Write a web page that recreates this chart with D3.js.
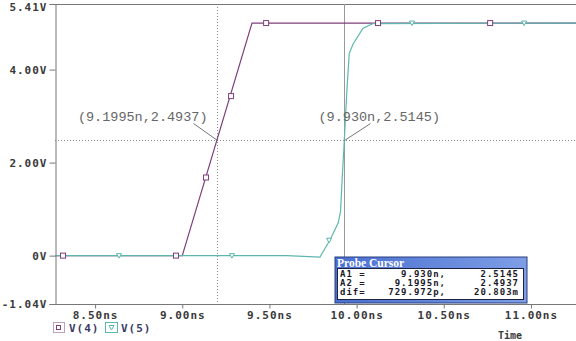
<!DOCTYPE html>
<html>
<head>
<meta charset="utf-8">
<script src="https://cdn.jsdelivr.net/npm/d3@7"></script>
<style>
    body { margin: 0; background: #fff; }
    svg { display: block; }
    .tick text { font-family: "DejaVu Sans Mono", monospace; font-weight: bold; font-size: 11px; letter-spacing: 1px; fill: #3a3a3a; }
</style>
</head>
<body>
<svg id="chart" width="576" height="341"></svg>
<script>
/* data (time in ns, volts) */
const v4Points = [[8.27, 0], [9.0, 0], [9.40, 5.0], [11.30, 5.0]];
const v4Markers = [[8.316, 0], [8.964, 0], [9.136, 1.68], [9.280, 3.43], [9.481, 5.0], [10.123, 5.0], [10.766, 5.0]];
const v5Points = [[8.27, 0], [9.60, 0], [9.79, -0.03], [9.848, 0.34], [9.894, 0.70], [9.908, 0.95],
    [9.918, 1.7], [9.930, 2.5145], [9.945, 3.6], [9.958, 4.35], [9.980, 4.55], [10.037, 4.89], [10.094, 4.99], [11.30, 5.0]];
const v5Markers = [[8.637, 0], [9.285, 0], [9.842, 0.33], [10.318, 5.0], [10.961, 5.0]];
const yTicks = [-1.04, 0, 2.0, 4.0, 5.41];
const yTickLabels = ["-1.04V", "0V", "2.00V", "4.00V", "5.41V"];
const xTicks = [8.5, 9.0, 9.5, 10.0, 10.5, 11.0];
const xTickLabels = ["8.50ns", "9.00ns", "9.50ns", "10.00ns", "10.50ns", "11.00ns"];
const cursorA1 = [9.930, 2.5145];
const cursorA2 = [9.1995, 2.4937];
const cursorRows = [["A1 =", "9.930n,", "2.5145"], ["A2 =", "9.1995n,", "2.4937"], ["dif=", "729.972p,", "20.803m"]];
const legendNames = ["V(4)", "V(5)"];

const purple = "#7d3f7b";
const teal = "#5cb8ae";
const axisColor = "#777";

let margin = { top: 4, right: 0, bottom: 37, left: 55 };
let width = 576, height = 341;

const svg = d3.select("#chart");

const xScale = d3.scaleLinear().domain([8.27, 11.27]).range([margin.left, 578]);
const yScale = d3.scaleLinear().domain([-1.04, 5.41]).range([height - margin.bottom, margin.top]);

const plot = svg.append("g");

// top border
plot.append("line")
    .attr("x1", margin.left).attr("x2", width)
    .attr("y1", margin.top + 0.5).attr("y2", margin.top + 0.5)
    .attr("stroke", axisColor);

/* cursors */
const a1x = Math.round(xScale(cursorA1[0])) + 0.5;
const a2x = Math.round(xScale(cursorA2[0])) + 0.5;
const a2y = Math.round(yScale(cursorA2[1])) + 0.5;

plot.append("line")
    .attr("x1", a2x).attr("x2", a2x)
    .attr("y1", margin.top).attr("y2", height - margin.bottom)
    .attr("stroke", "#888").attr("stroke-dasharray", "1,2");
plot.append("line")
    .attr("x1", margin.left).attr("x2", width)
    .attr("y1", a2y).attr("y2", a2y)
    .attr("stroke", "#888").attr("stroke-dasharray", "1,2");
plot.append("line")
    .attr("x1", a1x).attr("x2", a1x)
    .attr("y1", margin.top).attr("y2", height - margin.bottom)
    .attr("stroke", "#999");

/* traces */
const line = d3.line().x(d => xScale(d[0])).y(d => yScale(d[1]));

plot.append("path").datum(v4Points)
    .attr("d", line).attr("fill", "none")
    .attr("stroke", purple).attr("stroke-width", 1.2);
plot.append("path").datum(v5Points)
    .attr("d", line).attr("fill", "none")
    .attr("stroke", teal).attr("stroke-width", 1.2);

plot.selectAll("rect.m4").data(v4Markers).enter()
    .append("rect").attr("class", "m4")
    .attr("x", d => xScale(d[0]) - 2.5).attr("y", d => yScale(d[1]) - 2.5)
    .attr("width", 5).attr("height", 5)
    .attr("fill", "#fff").attr("stroke", purple).attr("stroke-width", 1);

const tri = "M-2.5,-2L2.5,-2L0,2.5Z";
plot.selectAll("path.m5").data(v5Markers).enter()
    .append("path").attr("class", "m5")
    .attr("d", tri)
    .attr("transform", d => "translate(" + xScale(d[0]) + "," + yScale(d[1]) + ")")
    .attr("fill", "#fff").attr("stroke", teal).attr("stroke-width", 1);

/* cursor labels */
const annFont = { family: "'Liberation Mono', monospace", size: "13.5px" };
plot.append("line")
    .attr("x1", a2x - 24).attr("y1", a2y - 17).attr("x2", a2x).attr("y2", a2y)
    .attr("stroke", "#777");
plot.append("text")
    .attr("x", a2x - 10).attr("y", a2y - 20)
    .attr("text-anchor", "end")
    .attr("font-family", annFont.family).attr("font-size", annFont.size)
    .attr("fill", "#666")
    .text("(" + "9.1995n" + "," + cursorA2[1].toFixed(4) + ")");
plot.append("line")
    .attr("x1", a1x).attr("y1", a2y).attr("x2", a1x + 26).attr("y2", a2y - 17)
    .attr("stroke", "#777");
plot.append("text")
    .attr("x", a1x - 26).attr("y", a2y - 20)
    .attr("font-family", annFont.family).attr("font-size", annFont.size)
    .attr("fill", "#666")
    .text("(" + "9.930n" + "," + cursorA1[1].toFixed(4) + ")");

/* axes */
const yAxis = d3.axisLeft(yScale)
    .tickValues(yTicks)
    .tickSize(6).tickPadding(2)
    .tickFormat((d, i) => yTickLabels[i]);
const yAxisG = svg.append("g")
    .attr("transform", "translate(" + (margin.left + 0.5) + ",0)")
    .call(yAxis);
// keep the top label inside the window
yAxisG.selectAll(".tick text").filter(d => d === 5.41).attr("dy", "0.55em");

const xAxis = d3.axisBottom(xScale)
    .tickValues(xTicks)
    .tickSize(4).tickPadding(3)
    .tickFormat((d, i) => xTickLabels[i]);
const xAxisG = svg.append("g")
    .attr("transform", "translate(0," + (height - margin.bottom + 0.5) + ")")
    .call(xAxis);

[yAxisG, xAxisG].forEach(g => {
    g.select(".domain").attr("stroke", axisColor);
    g.selectAll(".tick line").attr("stroke", axisColor);
});
xAxisG.select(".domain").attr("d", "M" + margin.left + ",0H" + width);

svg.append("text")
    .attr("x", 510).attr("y", 339)
    .attr("text-anchor", "middle")
    .attr("font-family", "'DejaVu Sans Mono', monospace").attr("font-weight", "bold")
    .attr("font-size", "10px").attr("fill", "#3a3a3a")
    .text("Time");

/* legend */
const legend = svg.append("g").attr("transform", "translate(53,322)");
legend.append("rect").attr("x", 0.5).attr("y", 0.5).attr("width", 11).attr("height", 10)
    .attr("fill", "none").attr("stroke", purple).attr("stroke-dasharray", "1,1");
legend.append("rect").attr("x", 3.5).attr("y", 3.5).attr("width", 4).attr("height", 4)
    .attr("fill", "#fff").attr("stroke", purple);
legend.append("text").attr("x", 16).attr("y", 9.5)
    .attr("font-family", "'DejaVu Sans Mono', monospace").attr("font-weight", "bold")
    .attr("font-size", "11px").attr("letter-spacing", "1px").attr("fill", "#3a3a6a")
    .text(legendNames[0]);
legend.append("rect").attr("x", 52.5).attr("y", 0.5).attr("width", 12).attr("height", 10)
    .attr("fill", "none").attr("stroke", teal);
legend.append("path").attr("d", tri)
    .attr("transform", "translate(58.5,5.5)")
    .attr("fill", "#fff").attr("stroke", teal);
legend.append("text").attr("x", 68).attr("y", 9.5)
    .attr("font-family", "'DejaVu Sans Mono', monospace").attr("font-weight", "bold")
    .attr("font-size", "11px").attr("letter-spacing", "1px").attr("fill", "#3a3a6a")
    .text(legendNames[1]);

/* probe cursor window */
const box = svg.append("g").attr("transform", "translate(335,257)");
const grad = svg.append("defs").append("linearGradient")
    .attr("id", "titlebar").attr("x1", 0).attr("x2", 1).attr("y1", 0).attr("y2", 0);
grad.append("stop").attr("offset", "0%").attr("stop-color", "#4a6fd0");
grad.append("stop").attr("offset", "100%").attr("stop-color", "#7e9ee6");
box.append("rect").attr("x", 0).attr("y", 0).attr("width", 192).attr("height", 46)
    .attr("fill", "url(#titlebar)").attr("stroke", "#2a3f80");
box.append("text").attr("x", 2).attr("y", 10)
    .attr("font-family", "'Liberation Serif', serif").attr("font-weight", "bold")
    .attr("font-size", "11.5px").attr("fill", "#fff")
    .text("Probe Cursor");
box.append("rect").attr("x", 2.5).attr("y", 11.5).attr("width", 186).attr("height", 31)
    .attr("fill", "#fff").attr("stroke", "#1c2340");
const rows = box.selectAll("g.row").data(cursorRows).enter()
    .append("g").attr("class", "row")
    .attr("transform", (d, i) => "translate(0," + (19.5 + i * 9) + ")");
const rowFont = sel => sel.attr("font-family", "'DejaVu Sans Mono', monospace")
    .attr("font-weight", "bold").attr("font-size", "9px").attr("letter-spacing", "1px")
    .attr("fill", "#1a1a2a");
rows.append("text").attr("x", 5).text(d => d[0]).call(rowFont);
rows.append("text").attr("x", 111).attr("text-anchor", "end").text(d => d[1]).call(rowFont);
rows.append("text").attr("x", 184).attr("text-anchor", "end").text(d => d[2]).call(rowFont);
</script>
</body>
</html>
